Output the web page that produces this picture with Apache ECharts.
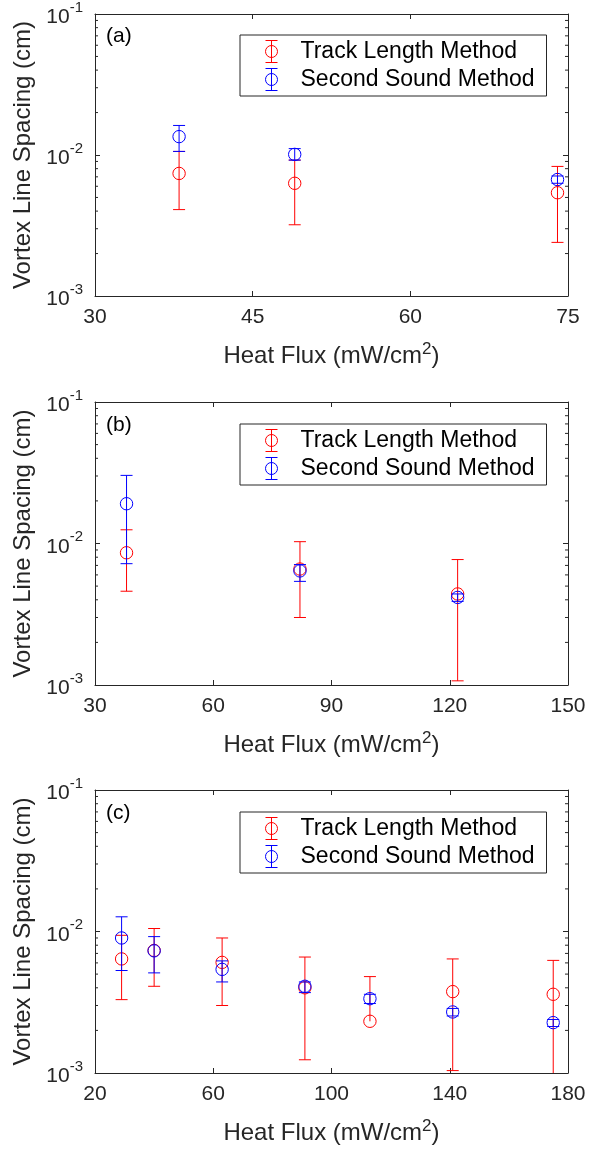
<!DOCTYPE html>
<html>
<head>
<meta charset="utf-8">
<script src="https://cdn.jsdelivr.net/npm/echarts@6/dist/echarts.min.js"></script>
<style>
html,body{margin:0;padding:0;background:#ffffff;}
#chart{width:589px;height:1151px;}
</style>
</head>
<body>
<div id="chart"></div>
<script>
// ---------------- DATA ----------------
const seriesNames = ['Track Length Method', 'Second Sound Method'];
const panelLabels = ['(a)', '(b)', '(c)'];
const yAxisTitle = 'Vortex Line Spacing (cm)';
const xAxisTitle = ['Heat Flux (mW/cm', '2', ')'];

// panel (a)
const xRangeA = [30, 75, 15];
const heatFluxA = [38, 49, 74];
const trackA = [0.0074, 0.0063, 0.0054];
const trackLoA = [0.0041, 0.0032, 0.0024];
const trackHiA = [0.0106, 0.0092, 0.0083];
const soundA = [0.0135, 0.0101, 0.0067];
const soundLoA = [0.0106, 0.0092, 0.0063];
const soundHiA = [0.0162, 0.0111, 0.0071];

// panel (b)
const xRangeB = [30, 150, 30];
const heatFluxB = [38, 82, 122];
const trackB = [0.0086, 0.0066, 0.0044];
const trackLoB = [0.0046, 0.0030, 0.00107];
const trackHiB = [0.0125, 0.0103, 0.0077];
const soundB = [0.0191, 0.0064, 0.00416];
const soundLoB = [0.0072, 0.0054, 0.0039];
const soundHiB = [0.0303, 0.0071, 0.0044];

// panel (c)
const xRangeC = [20, 180, 40];
const heatFluxC = [29, 40, 63, 91, 113, 141, 175];
const trackC = [0.0064, 0.00735, 0.00605, 0.0040, 0.00232, 0.00376, 0.0036];
const trackLoC = [0.0033, 0.0041, 0.0030, 0.00124, null, 0.00104, 0.00095];
const trackHiC = [0.0094, 0.0105, 0.0090, 0.0066, 0.0048, 0.0064, 0.00625];
const soundC = [0.0090, 0.0073, 0.0054, 0.0041, 0.00335, 0.0027, 0.00227];
const soundLoC = [0.0053, 0.0051, 0.0044, 0.0037, 0.0031, 0.00253, 0.00213];
const soundHiC = [0.0127, 0.0092, 0.0062, 0.0044, 0.0036, 0.00286, 0.00239];

const yRange = [0.001, 0.1];

// ---------------- BUILD ----------------
const FONT = '"Liberation Sans", Arial, Helvetica, sans-serif';
const AX = '#262626';
const RED = '#ff0000';
const BLUE = '#0000ff';

const panels = [
  {x: heatFluxA, xr: xRangeA, t: trackA, tl: trackLoA, th: trackHiA, s: soundA, sl: soundLoA, sh: soundHiA},
  {x: heatFluxB, xr: xRangeB, t: trackB, tl: trackLoB, th: trackHiB, s: soundB, sl: soundLoB, sh: soundHiB},
  {x: heatFluxC, xr: xRangeC, t: trackC, tl: trackLoC, th: trackHiC, s: soundC, sl: soundLoC, sh: soundHiC}
];
const gridTops = [13, 402, 790];
const GRID_LEFT = 95, GRID_W = 473, GRID_H = 283;

const minorVals = [];
for (let e = -3; e < -1; e++) {
  for (let m = 2; m <= 9; m++) minorVals.push(m * Math.pow(10, e));
}

function errorBarRenderer(xs, ys, lo, hi, color) {
  return function (params, api) {
    const i = params.dataIndex;
    const c = api.coord([xs[i], ys[i]]);
    const top = api.coord([xs[i], hi[i]]);
    const hasLo = lo[i] != null;
    const bot = hasLo ? api.coord([xs[i], lo[i]]) : c;
    const w = 6;
    const st = {stroke: color, lineWidth: 1, fill: null};
    const children = [
      {type: 'line', shape: {x1: c[0], y1: top[1], x2: c[0], y2: bot[1]}, style: st},
      {type: 'line', shape: {x1: c[0] - w, y1: top[1], x2: c[0] + w, y2: top[1]}, style: st}
    ];
    if (hasLo) {
      children.push({type: 'line', shape: {x1: c[0] - w, y1: bot[1], x2: c[0] + w, y2: bot[1]}, style: st});
    }
    children.push({type: 'circle', shape: {cx: c[0], cy: c[1], r: 6.2}, style: {stroke: color, lineWidth: 1, fill: 'none'}});
    return {type: 'group', children: children};
  };
}

function minorTickRenderer(xMin) {
  return function (params, api) {
    const cs = params.coordSys;
    const y = api.coord([xMin, minorVals[params.dataIndex]])[1];
    const st = {stroke: AX, lineWidth: 1};
    return {
      type: 'group',
      children: [
        {type: 'line', shape: {x1: cs.x, y1: y, x2: cs.x + 3, y2: y}, style: st},
        {type: 'line', shape: {x1: cs.x + cs.width - 3, y1: y, x2: cs.x + cs.width, y2: y}, style: st}
      ]
    };
  };
}

const iconPath = 'path://M1,0 L13,0 M7,0 L7,22 M1,22 L13,22 M13,11 A6,6 0 1,1 1,11 A6,6 0 1,1 13,11';

const grid = [], xAxis = [], yAxis = [], series = [], legend = [], title = [];

panels.forEach(function (p, g) {
  grid.push({left: GRID_LEFT, top: gridTops[g], width: GRID_W, height: GRID_H, containLabel: false});
  const lineStyle = {color: AX, width: 1};
  xAxis.push({
    type: 'value', gridIndex: g, min: p.xr[0], max: p.xr[1], interval: p.xr[2], position: 'bottom',
    axisLine: {show: true, onZero: false, lineStyle: lineStyle},
    axisTick: {show: true, inside: true, length: 5, lineStyle: lineStyle},
    splitLine: {show: false},
    axisLabel: {show: true, color: AX, fontSize: 21, fontFamily: FONT, margin: 11, showMinLabel: true, showMaxLabel: true},
    name: '{b|' + xAxisTitle[0] + '}{s|' + xAxisTitle[1] + '}{b|' + xAxisTitle[2] + '}',
    nameLocation: 'middle', nameGap: 45,
    nameTextStyle: {
      color: AX, fontFamily: FONT,
      rich: {
        b: {fontSize: 24, color: AX, fontFamily: FONT, verticalAlign: 'bottom'},
        s: {fontSize: 17, color: AX, fontFamily: FONT, verticalAlign: 'top', padding: [0, 0, 10, 0]}
      }
    }
  });
  xAxis.push({
    type: 'value', gridIndex: g, min: p.xr[0], max: p.xr[1], interval: p.xr[2], position: 'top',
    axisLine: {show: true, onZero: false, lineStyle: lineStyle},
    axisTick: {show: true, inside: true, length: 5, lineStyle: lineStyle},
    splitLine: {show: false}, axisLabel: {show: false}
  });
  yAxis.push({
    type: 'log', logBase: 10, gridIndex: g, min: yRange[0], max: yRange[1], position: 'left',
    axisLine: {show: true, onZero: false, lineStyle: lineStyle},
    axisTick: {show: true, inside: true, length: 5, lineStyle: lineStyle},
    splitLine: {show: false},
    axisLabel: {
      show: true, margin: 12,
      formatter: function (v) { return '{b|10}{s|' + Math.round(Math.log10(v)) + '}'; },
      rich: {
        b: {fontSize: 21, color: AX, fontFamily: FONT, verticalAlign: 'bottom'},
        s: {fontSize: 15, color: AX, fontFamily: FONT, verticalAlign: 'top', padding: [0, 0, 13, 0]}
      }
    },
    name: yAxisTitle, nameLocation: 'middle', nameGap: 58,
    nameTextStyle: {fontSize: 24, color: AX, fontFamily: FONT}
  });
  yAxis.push({
    type: 'log', logBase: 10, gridIndex: g, min: yRange[0], max: yRange[1], position: 'right',
    axisLine: {show: true, onZero: false, lineStyle: lineStyle},
    axisTick: {show: true, inside: true, length: 5, lineStyle: lineStyle},
    splitLine: {show: false}, axisLabel: {show: false}
  });

  const xi = 2 * g, yi = 2 * g;
  series.push({
    type: 'custom', name: '', xAxisIndex: xi, yAxisIndex: yi, silent: true, z: 1,
    data: minorVals.map(function (v) { return [p.xr[0], v]; }),
    renderItem: minorTickRenderer(p.xr[0])
  });
  series.push({
    type: 'custom', name: seriesNames[0], xAxisIndex: xi, yAxisIndex: yi, clip: true, z: 2,
    itemStyle: {color: RED},
    encode: {x: 0, y: 1},
    data: p.x.map(function (x, i) { return [x, p.t[i]]; }),
    renderItem: errorBarRenderer(p.x, p.t, p.tl, p.th, RED)
  });
  series.push({
    type: 'custom', name: seriesNames[1], xAxisIndex: xi, yAxisIndex: yi, clip: true, z: 3,
    itemStyle: {color: BLUE},
    encode: {x: 0, y: 1},
    data: p.x.map(function (x, i) { return [x, p.s[i]]; }),
    renderItem: errorBarRenderer(p.x, p.s, p.sl, p.sh, BLUE)
  });

  legend.push({
    show: true, orient: 'vertical', left: 240, top: gridTops[g] + 22,
    padding: [5, 12, 5, 25], itemGap: 5, itemWidth: 12, itemHeight: 22,
    borderColor: AX, borderWidth: 1, backgroundColor: '#ffffff', selectedMode: false,
    formatter: function (name) { return '{t|' + name + '}'; },
    textStyle: {
      fontSize: 23, color: '#000000', fontFamily: FONT,
      rich: {t: {fontSize: 23, color: '#000000', fontFamily: FONT, padding: [0, 0, 0, 18]}}
    },
    data: [
      {name: seriesNames[0], icon: iconPath, itemStyle: {color: 'transparent', borderColor: RED, borderWidth: 1}},
      {name: seriesNames[1], icon: iconPath, itemStyle: {color: 'transparent', borderColor: BLUE, borderWidth: 1}}
    ]
  });

  title.push({
    text: panelLabels[g], left: 106, top: gridTops[g] + 13, padding: 0,
    textStyle: {fontSize: 21, fontWeight: 'normal', color: '#000000', fontFamily: FONT}
  });
});

const chart = echarts.init(document.getElementById('chart'), null, {renderer: 'canvas'});
chart.setOption({
  animation: false,
  backgroundColor: '#ffffff',
  title: title,
  legend: legend,
  grid: grid,
  xAxis: xAxis,
  yAxis: yAxis,
  series: series
});
</script>
</body>
</html>
